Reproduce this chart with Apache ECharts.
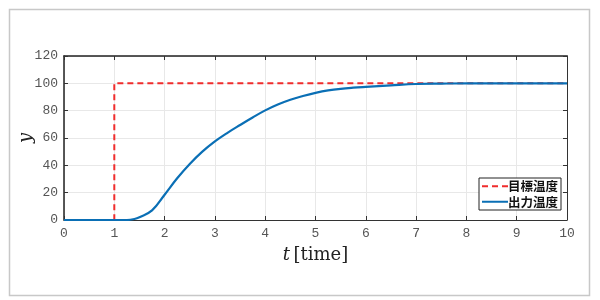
<!DOCTYPE html>
<html>
<head>
<meta charset="utf-8">
<script src="https://cdn.jsdelivr.net/npm/echarts@6/dist/echarts.min.js"></script>
<style>html,body{margin:0;padding:0;background:#fff}#c{width:600px;height:300px}</style>
</head>
<body>
<div id="c"></div>
<script>
const targetName = '目標温度';
const outputName = '出力温度';
const targetT = [0, 1, 1, 10];
const targetY = [0, 0, 100, 100];
const outputT = [0, 1, 1.25, 1.4, 1.5, 1.75, 2.0, 2.25, 2.5, 2.75, 3.0, 3.25, 3.5, 3.75, 4.0, 4.25, 4.5, 4.75, 5.0, 5.25, 5.5, 5.75, 6.0, 6.5, 7.0, 7.5, 8, 9, 10];
const outputY = [0, 0, 0, 0.7, 2, 7, 18.5, 30.5, 41, 50, 57.5, 63.8, 69.5, 75, 80.2, 84.5, 88, 90.7, 93, 94.8, 96, 96.8, 97.4, 98.5, 99.5, 99.8, 100, 100, 100];
const xTicks = [0, 10, 1];
const yTicks = [0, 120, 20];

const chart = echarts.init(document.getElementById('c'), null, {renderer: 'canvas'});
const labelStyle = {color: '#555', fontFamily: 'Liberation Mono', fontSize: 13};
chart.setOption({
  animation: false,
  graphic: [{type: 'rect', shape: {x: 9.5, y: 9.5, width: 580, height: 286}, style: {fill: 'none', stroke: '#c8c8c8', lineWidth: 1.5}, z: -1}],
  grid: {left: 64, top: 56, right: 33, bottom: 80, containLabel: false},
  legend: {
    orient: 'vertical', left: 479, top: 178, itemWidth: 26, itemHeight: 14, itemGap: 3,
    padding: [2, 3, 2, 2], backgroundColor: '#fff', borderColor: '#222', borderWidth: 1,
    itemStyle: {color: 'transparent', borderWidth: 0, opacity: 0},
    textStyle: {color: '#111', fontWeight: 'bold', fontSize: 12.5, fontFamily: 'Noto Sans CJK JP', padding: [0, 0, 0, -5]},
    data: [targetName, outputName]
  },
  xAxis: [{
    type: 'value', min: xTicks[0], max: xTicks[1], interval: xTicks[2],
    name: '{i|t} {n|[time]}', nameLocation: 'middle', nameGap: 26, nameMoveOverlap: false,
    nameTextStyle: {rich: {i: {fontFamily: 'DejaVu Serif', fontStyle: 'italic', fontSize: 18, color: '#222'}, n: {fontFamily: 'DejaVu Serif', fontSize: 18, color: '#222'}}},
    axisLine: {show: true, onZero: false, lineStyle: {color: '#333', width: 1}},
    axisTick: {show: true, inside: true, length: 4, lineStyle: {color: '#333'}},
    axisLabel: Object.assign({margin: 7}, labelStyle),
    splitLine: {show: true, lineStyle: {color: '#e8e8e8', width: 1}}
  }, {
    type: 'value', position: 'top', min: xTicks[0], max: xTicks[1], interval: xTicks[2],
    axisLine: {show: true, onZero: false, lineStyle: {color: '#222', width: 1.5}},
    axisTick: {show: true, inside: true, length: 4, lineStyle: {color: '#333'}},
    axisLabel: {show: false}, splitLine: {show: false}
  }],
  yAxis: [{
    type: 'value', min: yTicks[0], max: yTicks[1], interval: yTicks[2],
    name: 'y', nameLocation: 'middle', nameGap: 29, nameMoveOverlap: false,
    nameTextStyle: {fontFamily: 'DejaVu Serif', fontStyle: 'italic', fontSize: 18, color: '#222'},
    axisLine: {show: true, onZero: false, lineStyle: {color: '#222', width: 1.5}},
    axisTick: {show: true, inside: true, length: 4, lineStyle: {color: '#333'}},
    axisLabel: Object.assign({margin: 6}, labelStyle),
    splitLine: {show: true, lineStyle: {color: '#e8e8e8', width: 1}}
  }, {
    type: 'value', position: 'right', min: yTicks[0], max: yTicks[1], interval: yTicks[2],
    axisLine: {show: true, onZero: false, lineStyle: {color: '#333', width: 1}},
    axisTick: {show: true, inside: true, length: 4, lineStyle: {color: '#333'}},
    axisLabel: {show: false}, splitLine: {show: false}
  }],
  series: [{
    name: targetName, type: 'line', symbol: 'none', color: '#f02c2c',
    lineStyle: {type: [6, 4], width: 2, color: '#f02c2c'},
    data: targetT.map((t, i) => [t, targetY[i]]), z: 2
  }, {
    name: outputName, type: 'line', symbol: 'none', smooth: 0.4, color: '#0a6fb5',
    lineStyle: {width: 2.2, color: '#0a6fb5'},
    data: outputT.map((t, i) => [t, outputY[i]]), z: 3
  }]
});
</script>
</body>
</html>
